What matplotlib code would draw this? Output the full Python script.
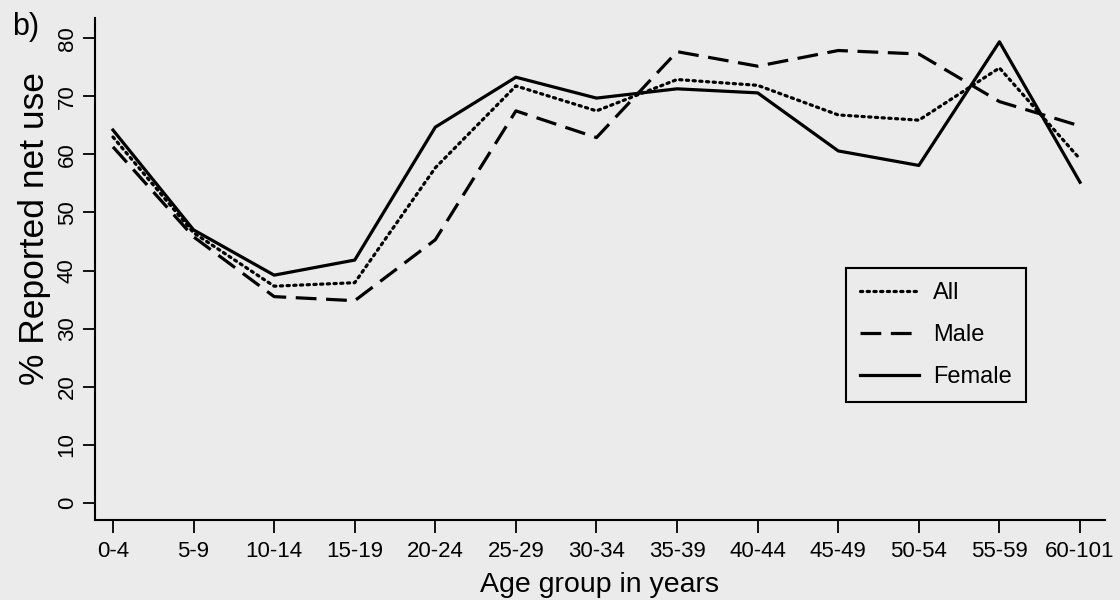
import matplotlib
matplotlib.use("Agg")
import matplotlib.pyplot as plt
import numpy as np

plt.rcParams['font.family'] = ['Liberation Sans', 'DejaVu Sans']

# reported net use (%) by age group
age_groups = ['0-4', '5-9', '10-14', '15-19', '20-24', '25-29', '30-34',
              '35-39', '40-44', '45-49', '50-54', '55-59', '60-101']
use_all = [63.0, 46.5, 37.3, 37.9, 57.7, 71.8, 67.5, 72.9, 71.9, 66.8, 65.9, 74.9, 59.2]
use_male = [61.3, 45.8, 35.5, 34.8, 45.3, 67.5, 62.9, 77.7, 75.2, 77.9, 77.3, 69.1, 64.9]
use_female = [64.2, 47.0, 39.2, 41.8, 64.7, 73.3, 69.7, 71.3, 70.6, 60.6, 58.1, 79.4, 55.2]
y_ticks = [0, 10, 20, 30, 40, 50, 60, 70, 80]

bg = '#ebebeb'
fig = plt.figure(figsize=(11.2, 6), dpi=100, facecolor=bg)
ax = fig.add_axes([95/1120, 80/600, 1010/1120, 502/600], facecolor=bg)

x = np.arange(len(age_groups))
lw = 2.3
ax.plot(x, use_all, color='black', lw=lw, linestyle=(0, (0.7, 1.4)),
        dash_capstyle='round', label='All')
ax.plot(x, use_male, color='black', lw=lw, linestyle=(0, (6.5, 3.0)), label='Male')
ax.plot(x, use_female, color='black', lw=lw, linestyle='-', label='Female')

ax.set_xlim(-0.223, 12.31)
ax.set_ylim(-2.98, 83.5)
ax.set_xticks(x)
ax.set_xticklabels(age_groups)
ax.set_yticks(y_ticks)
ax.set_yticklabels([str(v) for v in y_ticks], rotation=90, va='center')

for side in ['top', 'right']:
    ax.spines[side].set_visible(False)
for side in ['left', 'bottom']:
    ax.spines[side].set_linewidth(1.5)

ax.tick_params(axis='x', length=9, width=1.3, pad=6, labelsize=16)
ax.tick_params(axis='y', length=8.5, width=1.3, pad=4, labelsize=16)

ax.set_xlabel('Age group in years', fontsize=20.5, labelpad=7)
ax.set_ylabel('% Reported net use', fontsize=25.5, labelpad=4, y=0.58)

leg = ax.legend(loc='upper left', bbox_to_anchor=(846/1120, 1 - 268/600),
                bbox_transform=fig.transFigure, fontsize=17, frameon=True,
                fancybox=False, edgecolor='black', facecolor=bg, framealpha=1,
                handlelength=2.5, handletextpad=0.6, labelspacing=0.85,
                borderpad=0.6, borderaxespad=0)
leg.get_frame().set_linewidth(1.5)

fig.text(12/1120, 1 - 27/600, 'b)', fontsize=22, va='center', ha='left')

fig.savefig('out.png', dpi=100, facecolor=bg)
